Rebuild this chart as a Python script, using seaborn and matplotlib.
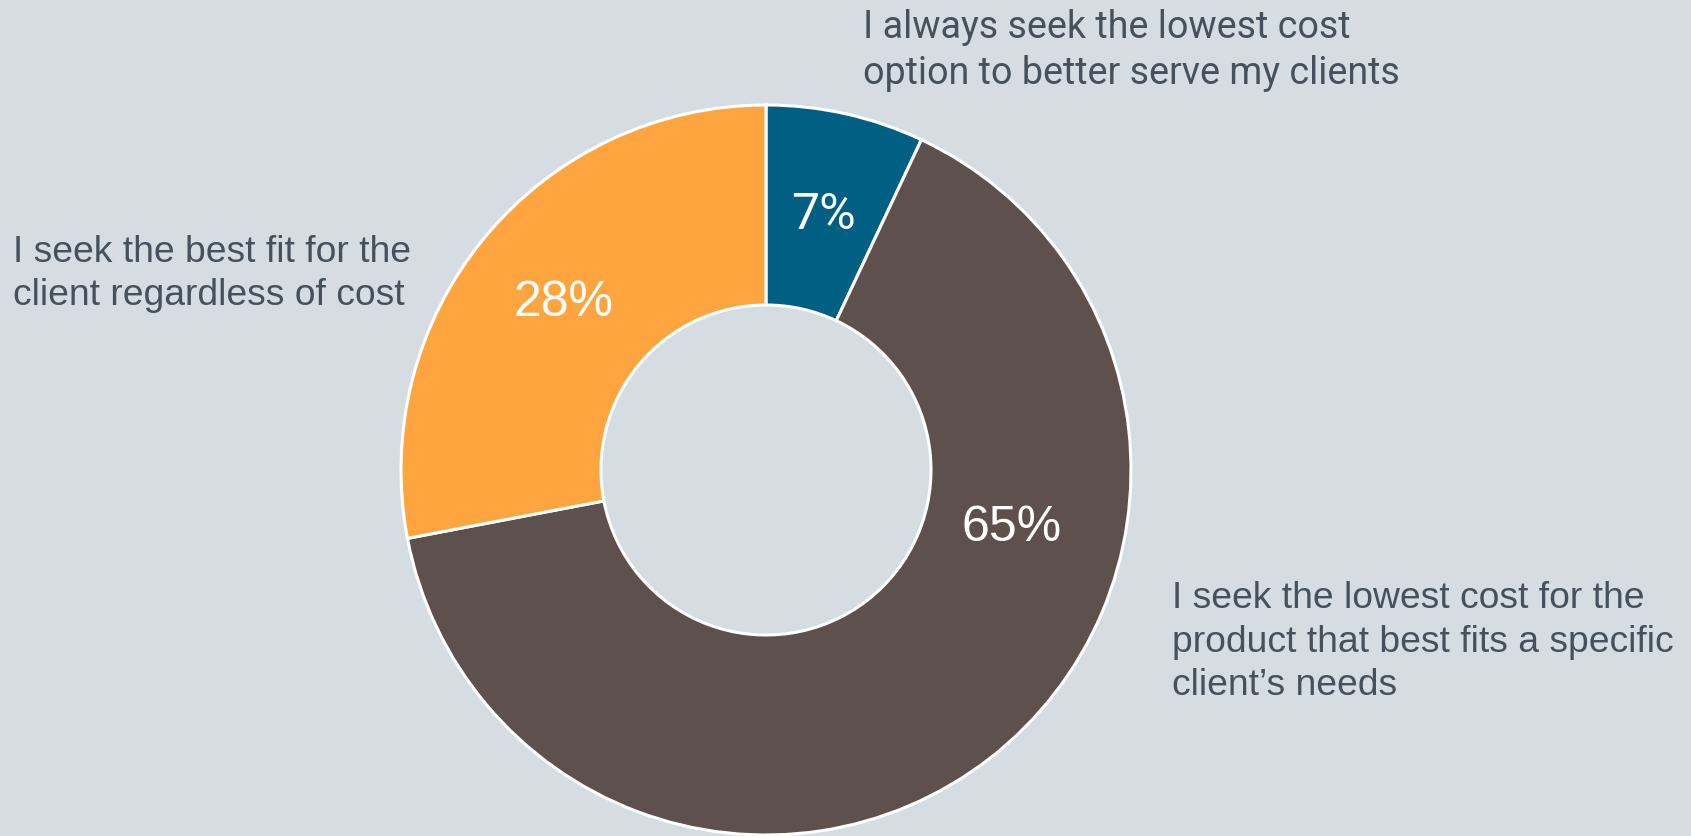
import numpy as np
import matplotlib
matplotlib.use("Agg")
import matplotlib.pyplot as plt
import seaborn as sns

# Survey answers, listed clockwise from 12 o'clock
categories = [
    "I always seek the lowest cost\noption to better serve my clients",
    "I seek the lowest cost for the\nproduct that best fits a specific\nclient\u2019s needs",
    "I seek the best fit for the\nclient regardless of cost",
]
shares = [7, 65, 28]
pct_labels = ["7%", "65%", "28%"]
colors = ["#005F83", "#5E504C", "#FFA540"]

BG = "#D5DDE3"
TEXT = "#45525D"

sns.set_theme(style="white", rc={"axes.facecolor": BG, "figure.facecolor": BG})
plt.rcParams["font.family"] = ["Liberation Sans", "DejaVu Sans"]

W, H = 1691, 837
fig = plt.figure(figsize=(W / 100, H / 100), dpi=100)
ax = fig.add_axes([0, 0, 1, 1])

cx, cy = 766, H - 471
R = 365
ring = 200

ax.pie(
    shares,
    colors=colors,
    startangle=90,
    counterclock=False,
    radius=R,
    center=(cx, cy),
    wedgeprops=dict(width=ring, edgecolor="white", linewidth=2.2),
    frame=True,
)
ax.set_xlim(0, W)
ax.set_ylim(0, H)
ax.set_aspect("equal")
ax.axis("off")

# Percentage labels inside the ring
angles = []
start = 90.0
for s in shares:
    sweep = 360.0 * s / sum(shares)
    angles.append(start - sweep / 2)
    start -= sweep
angles[1] = -13.0  # big slice label sits low on its right side
radii = [0.72, 0.69, 0.72]
families = [["Roboto", "DejaVu Sans"], ["Liberation Sans"], ["Liberation Sans"]]
for lab, a, r, fam in zip(pct_labels, angles, radii, families):
    x = cx + r * R * np.cos(np.radians(a))
    y = cy + r * R * np.sin(np.radians(a))
    ax.text(x, y, lab, ha="center", va="center", color="white", fontsize=36,
            family=fam)

# Category labels
ax.text(863, H - 9, categories[0], ha="left", va="top", color=TEXT,
        fontsize=27.1, linespacing=1.3, family=["Roboto", "DejaVu Sans"])
ax.text(1172, H - 581, categories[1], ha="left", va="top", color=TEXT,
        fontsize=26.8, linespacing=1.32)
ax.text(13, H - 235, categories[2], ha="left", va="top", color=TEXT,
        fontsize=26.8, linespacing=1.3)

fig.savefig("out.png", dpi=100, facecolor=BG)
